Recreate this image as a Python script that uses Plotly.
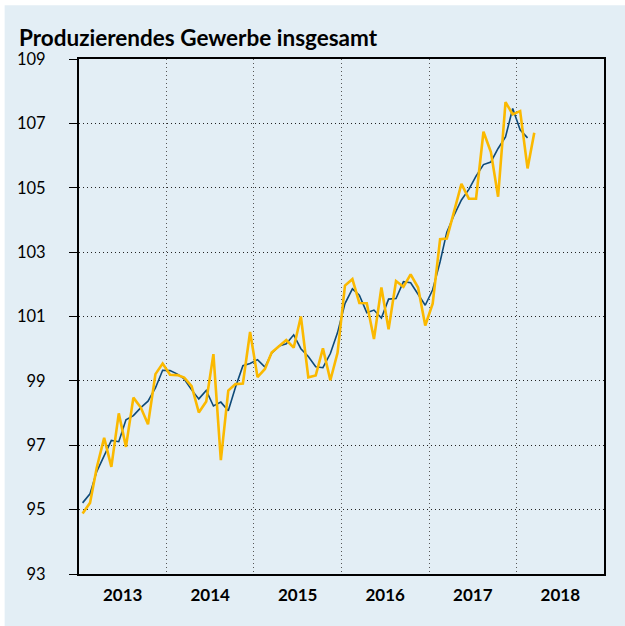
import pandas as pd
import plotly.graph_objects as go

# ---- data -------------------------------------------------------------
title_text = "Produzierendes Gewerbe insgesamt"
start_month = "2013-01-01"

# monthly index values (Jan 2013 - Mar 2018)
original_values = [
    94.88, 95.21, 96.30, 97.23, 96.33, 97.99, 96.95, 98.48, 98.17, 97.65, 99.21, 99.54,   # 2013
    99.19, 99.18, 99.10, 98.84, 98.02, 98.36, 99.83, 96.54, 98.70, 98.90, 98.92, 100.52,  # 2014
    99.12, 99.37, 99.88, 100.08, 100.27, 100.03, 101.00, 99.11, 99.17, 100.01, 99.02, 99.87,  # 2015
    101.96, 102.16, 101.42, 101.41, 100.30, 101.90, 100.60, 102.10, 101.92, 102.31, 101.90, 100.72,  # 2016
    101.40, 103.40, 103.42, 104.28, 105.12, 104.66, 104.66, 106.74, 106.11, 104.72, 107.66, 107.28,  # 2017
    107.38, 105.60, 106.71,  # 2018
]

# trend values (Jan 2013 - Feb 2018)
trend_values = [
    95.21, 95.49, 96.18, 96.70, 97.15, 97.11, 97.79, 97.92, 98.17, 98.37, 98.78, 99.33,   # 2013
    99.32, 99.21, 99.06, 98.72, 98.44, 98.70, 98.22, 98.34, 98.07, 98.80, 99.47, 99.54,   # 2014
    99.66, 99.43, 99.86, 100.08, 100.15, 100.43, 100.00, 99.76, 99.44, 99.41, 99.85, 100.50,  # 2015
    101.40, 101.86, 101.66, 101.12, 101.20, 100.95, 101.54, 101.56, 102.08, 102.05, 101.70, 101.35,  # 2016
    101.83, 102.70, 103.62, 104.16, 104.62, 104.95, 105.36, 105.72, 105.80, 106.22, 106.58, 107.46,  # 2017
    106.80, 106.55,  # 2018
]

y_ticks = [93, 95, 97, 99, 101, 103, 105, 107, 109]
x_range = ["2013-01-01", "2019-01-01"]

# ---- style ------------------------------------------------------------
BG = "#E3EEF5"
YELLOW = "#FBB900"
BLUE = "#0E4A78"
FONT = "Lato"

months_orig = pd.date_range(start_month, periods=len(original_values), freq="MS") + pd.Timedelta(days=15)
months_trend = pd.date_range(start_month, periods=len(trend_values), freq="MS") + pd.Timedelta(days=15)

fig = go.Figure()
fig.add_trace(go.Scatter(x=months_trend, y=trend_values, mode="lines",
                         line=dict(color=BLUE, width=1.6), showlegend=False))
fig.add_trace(go.Scatter(x=months_orig, y=original_values, mode="lines",
                         line=dict(color=YELLOW, width=2.6), showlegend=False))

W, H = 625, 626
L, R, T, B = 78.5, 20.5, 58.7, 52
pw, ph = W - L - R, H - T - B

def px_x(p):
    return (p - L) / pw

def px_y(p):
    return (H - B - p) / ph

fig.add_shape(type="rect", xref="paper", yref="paper",
              x0=px_x(4), x1=px_x(W + 2), y0=px_y(H + 2), y1=px_y(5),
              fillcolor=BG, line=dict(width=0), layer="below")

fig.update_layout(
    width=W, height=H,
    margin=dict(l=L, r=R, t=T, b=B, pad=0),
    paper_bgcolor="white",
    plot_bgcolor=BG,
    font=dict(family=FONT, color="black", size=16),
    title=dict(text="<b>" + title_text + "</b>", xref="container", yref="container",
               x=19 / W, xanchor="left", y=1 - 38 / H, yanchor="middle",
               font=dict(family=FONT, size=22.5, color="black")),
)

fig.update_xaxes(
    type="date", range=x_range, dtick="M12", tick0="2013-01-01",
    ticklabelmode="period", tickformat="%Y", ticks="",
    tickfont=dict(family=FONT, size=17, color="black", weight="bold"),
    showgrid=True, gridcolor="#555555", griddash="1px,3px", gridwidth=1,
    showline=True, mirror=True, linecolor="black", linewidth=2,
    zeroline=False, ticklabelstandoff=5,
)
fig.update_yaxes(
    range=[93, 109], tickvals=y_ticks, ticks="outside", ticklen=8,
    tickcolor="black", tickwidth=1,
    tickfont=dict(family=FONT, size=16.5, color="black"),
    showgrid=True, gridcolor="#222222", griddash="1px,3px", gridwidth=1,
    showline=True, mirror=True, linecolor="black", linewidth=2,
    zeroline=False, ticklabelstandoff=20,
)

fig.write_html(
    "out.html",
    config={"displayModeBar": False},
    post_script=("document.body.style.margin='0';document.body.style.padding='0';"
                 "document.body.style.overflow='hidden';"),
)
